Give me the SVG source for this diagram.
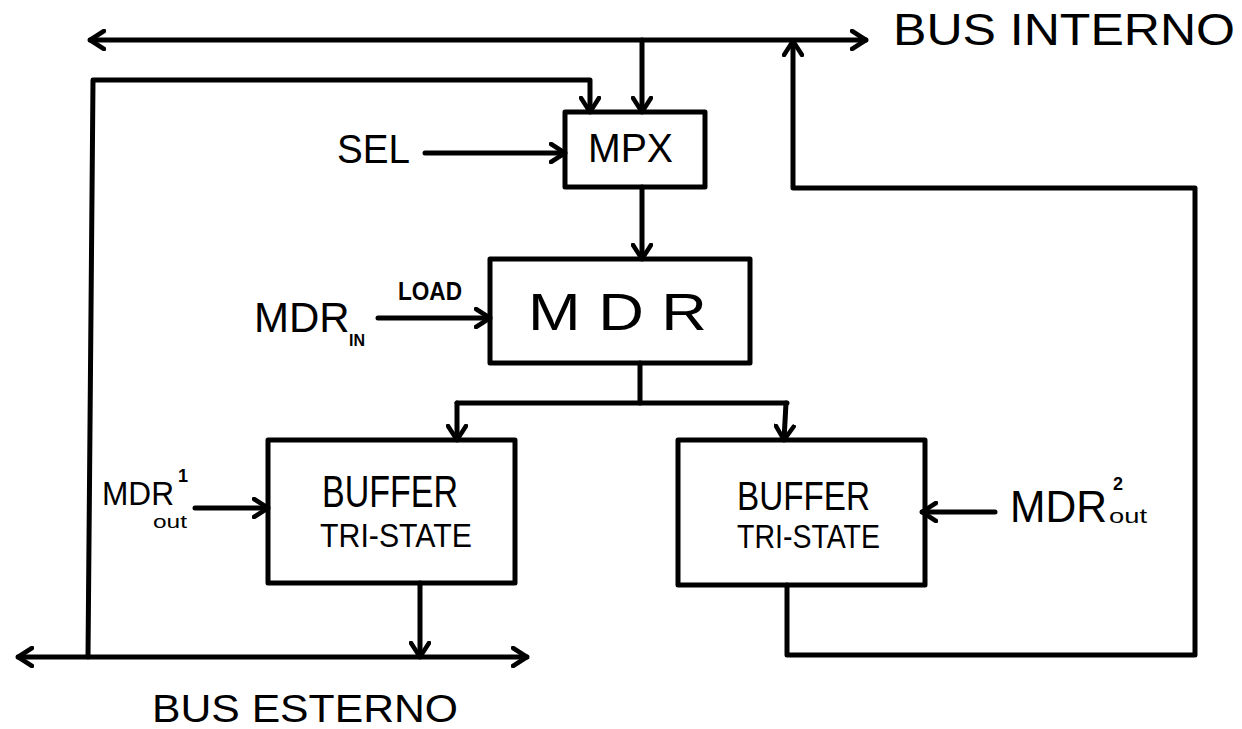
<svg xmlns="http://www.w3.org/2000/svg" width="1242" height="729" viewBox="0 0 1242 729">
<style>
.bx{fill:none;stroke:#000;stroke-width:5;stroke-linejoin:round}
.ln{fill:none;stroke:#000;stroke-width:5;stroke-linecap:round;stroke-linejoin:round}
.ar{marker-end:url(#arr)}
.t{font-family:"Liberation Sans","DejaVu Sans",sans-serif;fill:#000}
</style>
<defs>
<marker id="arr" viewBox="0 0 18 22" refX="16" refY="11" markerWidth="18" markerHeight="22" orient="auto-start-reverse" markerUnits="userSpaceOnUse">
<path d="M2,2 L16,11 L2,20" fill="none" stroke="#000" stroke-width="4.5" stroke-linecap="round" stroke-linejoin="round"/>
</marker>
</defs>
<rect width="1242" height="729" fill="#fff"/>

<g id="connectors">
<line class="ln" x1="90" y1="40" x2="866" y2="40" marker-start="url(#arr)" marker-end="url(#arr)"/>
<line class="ln ar" x1="642" y1="40" x2="642" y2="112"/>
<path class="ln ar" d="M88,657 L93,80 L590,80 L590,112"/>
<line class="ln ar" x1="425" y1="153" x2="565" y2="153"/>
<line class="ln ar" x1="642" y1="187" x2="642" y2="259"/>
<line class="ln ar" x1="378" y1="318" x2="490" y2="318"/>
<line class="ln" x1="640" y1="363" x2="640" y2="403"/>
<line class="ln" x1="457" y1="403" x2="787" y2="403"/>
<line class="ln ar" x1="457" y1="403" x2="457" y2="440"/>
<line class="ln ar" x1="786" y1="403" x2="784" y2="440"/>
<line class="ln ar" x1="195" y1="508" x2="268" y2="508"/>
<line class="ln ar" x1="420" y1="583" x2="420" y2="657"/>
<line class="ln" x1="18" y1="657" x2="527" y2="657" marker-start="url(#arr)" marker-end="url(#arr)"/>
<line class="ln ar" x1="995" y1="512" x2="922" y2="512"/>
<path class="ln ar" d="M787,585 L787,655 L1195,655 L1195,188 L793,188 L793,41"/>
</g>

<g id="bus-interno"><text class="t" x="893" y="45" font-size="44" textLength="342" lengthAdjust="spacingAndGlyphs">BUS INTERNO</text></g>
<g id="bus-esterno"><text class="t" x="152" y="722" font-size="38" textLength="306" lengthAdjust="spacingAndGlyphs">BUS ESTERNO</text></g>
<g id="sel"><text class="t" x="337" y="163" font-size="40" textLength="73" lengthAdjust="spacingAndGlyphs">SEL</text></g>

<g id="mpx">
<rect class="bx" x="565" y="112" width="140" height="75"/>
<text class="t" x="588" y="162" font-size="40" textLength="85" lengthAdjust="spacingAndGlyphs">MPX</text>
</g>

<g id="mdr">
<rect class="bx" x="490" y="259" width="260" height="104"/>
<text class="t" x="528" y="330" font-size="52" textLength="179" lengthAdjust="spacingAndGlyphs">M D R</text>
</g>

<g id="mdr-in">
<text class="t" x="254" y="332" font-size="42">MDR</text>
<text class="t" x="349" y="346" font-size="16" font-weight="bold">IN</text>
<text class="t" x="398" y="300" font-size="26" font-weight="bold" textLength="64" lengthAdjust="spacingAndGlyphs">LOAD</text>
</g>

<g id="buffer1">
<rect class="bx" x="268" y="440" width="247" height="143"/>
<text class="t" x="322" y="507" font-size="44" textLength="136" lengthAdjust="spacingAndGlyphs">BUFFER</text>
<text class="t" x="320" y="547" font-size="34" textLength="152" lengthAdjust="spacingAndGlyphs">TRI-STATE</text>
</g>

<g id="mdr-out1">
<text class="t" x="102" y="505" font-size="34" textLength="72" lengthAdjust="spacingAndGlyphs">MDR</text>
<text class="t" x="178" y="482" font-size="18" font-weight="bold">1</text>
<text class="t" x="153" y="528" font-size="18" textLength="34" lengthAdjust="spacingAndGlyphs">out</text>
</g>

<g id="buffer2">
<rect class="bx" x="678" y="440" width="247" height="145"/>
<text class="t" x="737" y="510" font-size="40" textLength="133" lengthAdjust="spacingAndGlyphs">BUFFER</text>
<text class="t" x="737" y="548" font-size="34" textLength="143" lengthAdjust="spacingAndGlyphs">TRI-STATE</text>
</g>

<g id="mdr-out2">
<text class="t" x="1010" y="522" font-size="44" textLength="97" lengthAdjust="spacingAndGlyphs">MDR</text>
<text class="t" x="1113" y="490" font-size="18" font-weight="bold">2</text>
<text class="t" x="1109" y="523" font-size="20" textLength="38" lengthAdjust="spacingAndGlyphs">out</text>
</g>
</svg>
